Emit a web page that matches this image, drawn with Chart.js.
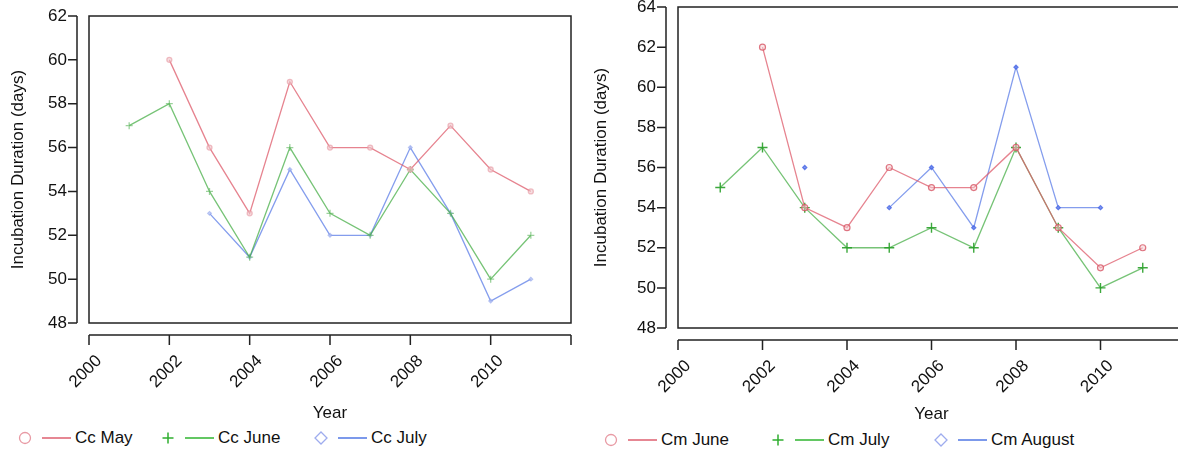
<!DOCTYPE html>
<html>
<head>
<meta charset="utf-8">
<script src="https://cdn.jsdelivr.net/npm/chart.js@4.4.1/dist/chart.umd.min.js"></script>
<style>
  body { margin: 0; background: #fff; width: 1178px; height: 453px; overflow: hidden; position: relative;
         font-family: "Liberation Sans", Arial, sans-serif; }
  .wrap { position: absolute; top: 0; }
  #leftWrap { left: 0; width: 590px; height: 424px; }
  #rightWrap { left: 582px; width: 622px; height: 425px; }
  .leg { position: absolute; height: 20px; font-size: 17px; color: #111; line-height: 20px; white-space: nowrap; }
  .leg svg { position: absolute; top: 0; left: 0; }
  .leg span { position: absolute; top: 0; }
</style>
</head>
<body>
<div class="wrap" id="leftWrap"><canvas id="leftChart"></canvas></div>
<div class="wrap" id="rightWrap"><canvas id="rightChart"></canvas></div>
<div id="legends"></div>
<script>
const years = [2001, 2002, 2003, 2004, 2005, 2006, 2007, 2008, 2009, 2010, 2011];

// left panel (Cc)
const ccMay  = [null, 60, 56, 53, 59, 56, 56, 55, 57, 55, 54];
const ccJune = [57, 58, 54, 51, 56, 53, 52, 55, 53, 50, 52];
const ccJuly = [null, null, 53, 51, 55, 52, 52, 56, 53, 49, 50];

// right panel (Cm)
const cmJune   = [null, 62, 54, 53, 56, 55, 55, 57, 53, 51, 52];
const cmJuly   = [55, 57, 54, 52, 52, 53, 52, 57, 53, 50, 51];
const cmAugust = [null, null, 56, null, 54, 56, 53, 61, 54, 54, null];

const leftLabels  = ['Cc May', 'Cc June', 'Cc July'];
const rightLabels = ['Cm June', 'Cm July', 'Cm August'];

const RED = 'rgba(222, 90, 105, 0.75)';
const GREEN = 'rgba(60, 170, 60, 0.7)';
const BLUE = 'rgba(80, 115, 230, 0.7)';

const pts = vals => years.map((yr, i) => ({ x: yr, y: vals[i] }));

// axes drawn apart from the plot box, like lattice/base R
const offsetAxes = {
  id: 'offsetAxes',
  afterDraw(chart) {
    const { ctx, chartArea: a, scales: { x, y } } = chart;
    const gap = 12;
    ctx.save();
    ctx.strokeStyle = '#222';
    ctx.lineWidth = 1.5;
    ctx.strokeRect(a.left, a.top, a.right - a.left, a.bottom - a.top);
    ctx.beginPath();
    const yx = a.left - gap;
    ctx.moveTo(yx, y.getPixelForValue(y.min));
    ctx.lineTo(yx, y.getPixelForValue(y.max));
    y.ticks.forEach(t => {
      const p = y.getPixelForValue(t.value);
      ctx.moveTo(yx, p); ctx.lineTo(yx - 9, p);
    });
    const xy = a.bottom + gap;
    ctx.moveTo(x.getPixelForValue(x.min), xy);
    ctx.lineTo(x.getPixelForValue(x.max), xy);
    x.ticks.forEach(t => {
      const p = x.getPixelForValue(t.value);
      ctx.moveTo(p, xy); ctx.lineTo(p, xy + 10);
    });
    ctx.stroke();
    ctx.restore();
  }
};

function makeChart(id, datasets, yMin, yMax, pad, yWidth, xHeight, yTitlePad) {
  return new Chart(document.getElementById(id), {
    type: 'line',
    data: { datasets: datasets },
    options: {
      responsive: true,
      maintainAspectRatio: false,
      animation: false,
      layout: { padding: pad },
      plugins: { legend: { display: false }, tooltip: { enabled: false } },
      scales: {
        x: {
          type: 'linear', min: 2000, max: 2012,
          grid: { display: false, drawTicks: false },
          border: { display: false },
          ticks: {
            stepSize: 2, autoSkip: false, minRotation: 45, maxRotation: 45,
            padding: 28, labelOffset: 10, color: '#111', font: { size: 17 },
            callback: v => (v === 2012 ? '' : String(v))
          },
          title: { display: true, text: 'Year', color: '#111', font: { size: 17 }, padding: { top: 0, bottom: 0 } },
          afterFit: s => { s.height = xHeight; s.paddingLeft = 0; s.paddingRight = 0; }
        },
        y: {
          min: yMin, max: yMax,
          grid: { display: false, drawTicks: false },
          border: { display: false },
          ticks: { stepSize: 2, padding: 22, color: '#111', font: { size: 17 } },
          title: { display: true, text: 'Incubation Duration (days)', color: '#111', font: { size: 17 }, padding: { top: yTitlePad, bottom: 0 } },
          afterFit: s => { s.width = yWidth; s.paddingTop = 0; s.paddingBottom = 0; }
        }
      }
    },
    plugins: [offsetAxes]
  });
}

makeChart('leftChart', [
  { label: leftLabels[0], data: pts(ccMay), borderColor: RED, borderWidth: 1.3, pointStyle: 'circle', pointRadius: 2.5,
    pointBorderColor: 'rgba(230,150,160,0.6)', pointBackgroundColor: 'rgba(240,200,205,0.6)', tension: 0 },
  { label: leftLabels[1], data: pts(ccJune), borderColor: GREEN, borderWidth: 1.3, pointStyle: 'cross', pointRadius: 3.5,
    pointBorderColor: 'rgba(90,180,90,0.6)', tension: 0 },
  { label: leftLabels[2], data: pts(ccJuly), borderColor: BLUE, borderWidth: 1.3, pointStyle: 'rectRot', pointRadius: 1.8,
    pointBorderColor: 'rgba(140,160,235,0.6)', pointBackgroundColor: 'rgba(200,210,245,0.6)', tension: 0 }
], 48, 62, { left: 0, top: 16, right: 19, bottom: 0 }, 89, 101, 8);

makeChart('rightChart', [
  { label: rightLabels[0], data: pts(cmJune), borderColor: RED, borderWidth: 1.3, pointStyle: 'circle', pointRadius: 3,
    pointBorderColor: 'rgba(215,85,100,0.8)', pointBackgroundColor: 'rgba(245,205,210,0.5)', pointBorderWidth: 1.2, tension: 0 },
  { label: rightLabels[1], data: pts(cmJuly), borderColor: GREEN, borderWidth: 1.3, pointStyle: 'cross', pointRadius: 5,
    pointBorderColor: 'rgba(40,160,40,0.9)', pointBorderWidth: 1.4, tension: 0 },
  { label: rightLabels[2], data: pts(cmAugust), borderColor: BLUE, borderWidth: 1.3, pointStyle: 'rectRot', pointRadius: 2,
    pointBorderColor: 'rgba(70,100,230,0.8)', pointBackgroundColor: 'rgba(110,140,235,0.8)', tension: 0 }
], 48, 64, { left: 0, top: 7, right: 19, bottom: 0 }, 96, 97, 9);

// legends under each panel
const legendItems = [
  { text: leftLabels[0], x: 18, y: 428, color: '#e06a78', mark: 'circle' },
  { text: leftLabels[1], x: 161, y: 428, color: '#3dba3d', mark: 'plus' },
  { text: leftLabels[2], x: 314, y: 428, color: '#5c80e6', mark: 'diamond' },
  { text: rightLabels[0], x: 604, y: 430, color: '#e06a78', mark: 'circle' },
  { text: rightLabels[1], x: 771, y: 430, color: '#3dba3d', mark: 'plus' },
  { text: rightLabels[2], x: 934, y: 430, color: '#5c80e6', mark: 'diamond' }
];
const markSvg = {
  circle: '<circle cx="7" cy="10" r="5.5" fill="none" stroke="#e89aa4" stroke-width="1.3"/>',
  plus: '<path d="M1.5 10 H12.5 M7 4.5 V15.5" stroke="#2fae2f" stroke-width="1.5"/>',
  diamond: '<path d="M7 4 L13 10 L7 16 L1 10 Z" fill="none" stroke="#9eacee" stroke-width="1.3"/>'
};
const host = document.getElementById('legends');
legendItems.forEach(it => {
  const d = document.createElement('div');
  d.className = 'leg';
  d.style.left = it.x + 'px';
  d.style.top = it.y + 'px';
  d.innerHTML = '<svg width="60" height="20">' + markSvg[it.mark] +
    '<line x1="24" y1="10" x2="53" y2="10" stroke="' + it.color + '" stroke-width="1.6"/></svg>' +
    '<span style="left:57px">' + it.text + '</span>';
  host.appendChild(d);
});
</script>
</body>
</html>
